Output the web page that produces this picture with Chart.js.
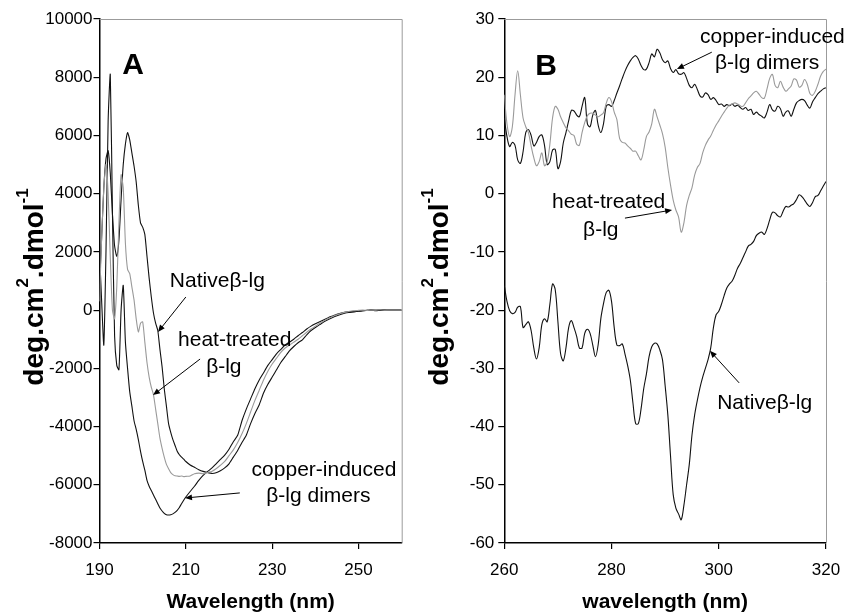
<!DOCTYPE html>
<html lang="en">
<head>
<meta charset="UTF-8">
<title>CD spectra - beta-lg</title>
<script src="https://cdn.jsdelivr.net/npm/chart.js"></script>
<style>
  html, body { margin: 0; padding: 0; background: #fff; }
  #wrap { position: relative; width: 861px; height: 614px; overflow: hidden; }
  #chartA { position: absolute; left: 0; top: 0; }
  #chartB { position: absolute; left: 415px; top: 0; }
</style>
</head>
<body>
<div id="wrap">
  <canvas id="chartA" width="415" height="614"></canvas>
  <canvas id="chartB" width="446" height="614"></canvas>
</div>
<script>
// ---- panel A: far-UV (nm, deg.cm2.dmol-1) ----
const wavelengthA = [
  190, 190.5, 191, 191.5, 192, 192.5, 193, 193.5, 194, 194.5,
  195, 195.5, 196, 196.5, 197, 197.5, 198, 198.5, 199, 199.5,
  200, 200.5, 201, 201.5, 202, 202.5, 203, 203.5, 204, 204.5,
  205, 205.5, 206, 206.5, 207, 207.5, 208, 208.5, 209, 209.5,
  210,
  211, 212, 213, 214, 215, 216, 217, 218, 219, 220,
  221, 222, 223, 224, 225, 226, 227, 228, 229, 230,
  231, 232, 233, 234, 235, 236, 237, 238, 239, 240,
  241, 242, 243, 244, 245, 246, 247, 248, 249, 250,
  251, 252, 253, 254, 255, 256, 257, 258, 259, 260
];
const nativeA = [
  800, 2500, 4200, 5200, 5475, 4700, 3300, 2200, 1850, 2400,
  3800, 5000, 5700, 6100, 5850, 5400, 4950, 4400, 3600, 3000,
  2850, 2600, 1850, 1100, 450, -100, -450, -700, -1350, -1950,
  -2700, -3300, -3900, -4200, -4450, -4650, -4850, -4970, -5050, -5120,
  -5200,
  -5320, -5400, -5480, -5540, -5580, -5610, -5590, -5520, -5420, -5280,
  -5050, -4820, -4550, -4300, -3900, -3550, -3250, -2850, -2550, -2300,
  -2050, -1800, -1600, -1400, -1250, -1120, -1020, -850, -700, -600,
  -500, -400, -320, -250, -190, -140, -100, -80, -60, -40,
  -20, -10, 0, -20, 0, 10, 0, 0, 0, 0
];
const heatA = [
  300, 2500, 4200, 5000, 4000, 1800, 0, -300, 800, 3000,
  4650, 4200, 2300, 1400, 1250, 800, 350, -300, -750, -450,
  -400, -1100, -1800, -2300, -2650, -2900, -3400, -3900, -4400, -4750,
  -5050, -5300, -5450, -5580, -5650, -5690, -5700, -5710, -5700, -5720,
  -5710,
  -5700, -5620, -5600, -5620, -5580, -5540, -5450, -5330, -5200, -5000,
  -4800, -4550, -4250, -3900, -3500, -3100, -2750, -2400, -2100, -1850,
  -1650, -1450, -1300, -1200, -1100, -1000, -880, -760, -650, -550,
  -450, -370, -290, -220, -160, -110, -70, -40, -20, -10,
  0, -10, 0, 0, 10, 0, 0, 0, 0, 0
];
const copperA = [
  2000, 300, -1200, 2000, 6500, 8100, 3300, -900, -1900, -2050,
  0, 850, -1100, -2000, -2800, -3300, -3800, -4100, -4450, -4850,
  -5200, -5500, -5850, -6050, -6200, -6350, -6500, -6650, -6800, -6900,
  -6980, -7030, -7040, -7030, -7000, -6950, -6880, -6780, -6650, -6530,
  -6420,
  -6230, -6050, -5850, -5680, -5550, -5430, -5280, -5130, -4980, -4780,
  -4520, -4300, -3800, -3400, -3050, -2700, -2400, -2150, -1900, -1700,
  -1500, -1350, -1200, -1100, -1000, -880, -770, -650, -550, -470,
  -400, -330, -260, -200, -140, -100, -70, -50, -40, -30,
  -20, -10, 0, 0, 0, 0, 0, 0, 0, 0
];
const xTicksA = [190, 210, 230, 250];

// ---- panel B: near-UV ----
const wavelengthB = [
  260, 260.5, 261, 261.5, 262, 262.5, 263, 263.5, 264, 264.5,
  265, 265.5, 266, 266.5, 267, 267.5, 268, 268.5, 269, 269.5,
  270, 270.5, 271, 271.5, 272, 272.5, 273, 273.5, 274, 274.5,
  275, 275.5, 276, 276.5, 277, 277.5, 278, 278.5, 279, 279.5,
  280, 280.5, 281, 281.5, 282, 282.5, 283, 283.5, 284, 284.5,
  285, 285.5, 286, 286.5, 287, 287.5, 288, 288.5, 289, 289.5,
  290, 290.5, 291, 291.5, 292, 292.5, 293, 293.5, 294, 294.5,
  295, 295.5, 296, 296.5, 297, 297.5, 298, 298.5, 299, 299.5,
  300, 300.5, 301, 301.5, 302, 302.5, 303, 303.5, 304, 304.5,
  305, 305.5, 306, 306.5, 307, 307.5, 308, 308.5, 309, 309.5,
  310, 310.5, 311, 311.5, 312, 312.5, 313, 313.5, 314, 314.5,
  315, 315.5, 316, 316.5, 317, 317.5, 318, 318.5, 319, 319.5,
  320
];
const nativeB = [
  -15.8, -18.5, -20.1, -20.6, -20.4, -19.5, -19.4, -23, -22.5, -22,
  -23.5, -26.5, -28.4, -26.5, -22.5, -21.5, -22, -19, -15.5, -16.5,
  -22, -27.5, -28.7, -26.5, -23, -21.8, -23, -24.5, -26.5, -26.5,
  -24, -23.3, -24, -26, -28, -26, -21.5, -18.9, -17, -16.6,
  -18.5, -23, -26, -26.1, -25.8, -27.5, -29.5, -32, -36, -39.5,
  -39.5, -37, -33.5, -31, -28, -26.3, -25.7, -25.8, -26.8, -28.5,
  -33, -38, -45, -51.7, -54, -55, -56, -53.5, -50, -46.5,
  -41.5, -38, -35.5, -33.3, -31.5, -30, -28.5, -26.5, -23, -20.8,
  -20.2, -19, -17.5, -16.2, -15.5, -15, -14, -12.8, -12, -11,
  -10, -9, -8.7, -8.2, -7.2, -6.8, -6.6, -7, -6, -4.5,
  -3.2, -3.3, -3.8, -4, -3, -2.2, -2.3, -2, -1.7, -1,
  -0.2, -0.5, -1.1, -1.8, -2.2, -1.5, -0.5, -0.3, 0.5, 1.3,
  2.1
];
const heatB = [
  17, 12, 9.8, 11.5, 17, 21.1, 17, 13, 11.5, 10.5,
  8.2, 6.2, 4.8, 5.5, 7, 4.8, 5.5, 8.5, 13, 15,
  14.5, 13.2, 12.2, 11.3, 10.8, 10.2, 10, 8.5, 8.3, 10.5,
  12.2, 13.4, 13.8, 13.8, 13.5, 13.2, 13.5, 13.9, 15.5, 16.5,
  15.8, 14, 12.7, 9.5, 8.8, 8.7, 8.2, 7.8, 7.3, 7.3,
  6.5, 5.8, 7.5, 9.8, 10.6, 12, 14.5, 13.2, 11.8, 10.3,
  8, 4.5, 1.5, -1.1, -2.8, -4, -6.6, -5, -2, -0.3,
  1, 3.2, 4.5, 5.2, 7, 8.3, 9.2, 9.9, 10.9, 11.8,
  12.5, 13.3, 14, 14.7, 15.2, 15.4, 15.6, 15.4, 15.1, 15,
  15.6, 16.3, 16.8, 17.3, 17.6, 17.1, 16.5, 16.4, 18, 19.8,
  20.5, 18.6, 18.2, 19.3, 18.3, 17.6, 18, 18.5, 19.7, 19.5,
  18.3, 18.6, 19.6, 18.8, 17.2, 16.9, 17.6, 18.8, 20.2, 21,
  21.4
];
const copperB = [
  13, 9.8, 8.1, 8.8, 8.3, 5.8, 5.2, 7.2, 10.5, 11,
  10, 8.2, 8.8, 9.8, 10.1, 8.3, 5, 5.5, 7.5, 7.6,
  4.3, 5.5, 8.7, 10.5, 12.5, 14.3, 14.2, 13.5, 13.2, 15,
  16.5, 12, 11.5, 13.5, 14.3, 11.8, 10.5, 12, 15, 15.3,
  15, 16, 17.3, 18.5, 19.8, 21, 22, 22.8, 23.4, 23.7,
  23.1, 22, 21.3, 21.4, 22.5, 24, 23.5, 24.8, 24.2, 23,
  22.5, 22.8, 21.5, 20.8, 21.3, 20.6, 20.5, 20.8, 19.8, 18.6,
  18.2, 18.8, 17.9, 16.8, 16.6, 17.3, 17, 16.2, 16.5, 16,
  15.3, 15.4, 15, 15.3, 15.1, 15.4, 15, 15.2, 14.8, 14.5,
  14.8, 14.3, 14.5, 13.6, 14, 13.6, 13.3, 13, 14, 15.3,
  14.4, 14.2, 15, 14.6, 13.3, 14, 14.2, 13.3, 14.5, 15.6,
  16, 16.2, 16, 15.2, 14.7, 15.8, 16.5, 17.2, 17.6, 18,
  18.2
];
const xTicksB = [260, 280, 300, 320];

// labels placed in data units: [text, nm, value, align]
const notesA = [
  ['Nativeβ-lg', 206.3, 1000, 'left'],
  ['heat-treated', 208.2, -1030, 'left'],
  ['β-lg', 218.8, -1950, 'center'],
  ['copper-induced', 242.0, -5490, 'center'],
  ['β-lg dimers', 240.7, -6390, 'center']
];
const arrowsA = [
  [210.0, 450, 203.55, -750],
  [213.3, -1680, 202.4, -2920],
  [222.5, -6280, 209.8, -6455]
];
const notesB = [
  ['copper-induced', 296.5, 26.9, 'left'],
  ['β-lg dimers', 309.0, 22.4, 'center'],
  ['heat-treated', 268.9, -1.4, 'left'],
  ['β-lg', 278.0, -6.2, 'center'],
  ['Nativeβ-lg', 299.7, -36.0, 'left']
];
const arrowsB = [
  [298.7, 24.3, 292.2, 21.4],
  [282.5, -4.2, 291.3, -2.8],
  [303.8, -32.5, 298.35, -27.0]
];

const FONT = "'Liberation Sans', Arial, sans-serif";
Chart.defaults.font.family = FONT;
Chart.defaults.color = '#000';

function pts(xs, ys) {
  return xs.map((x, i) => ({ x: x, y: ys[i] }));
}

function arrow(ctx, x1, y1, x2, y2) {
  const ang = Math.atan2(y2 - y1, x2 - x1);
  ctx.beginPath();
  ctx.moveTo(x1, y1);
  ctx.lineTo(x2 - 5 * Math.cos(ang), y2 - 5 * Math.sin(ang));
  ctx.stroke();
  ctx.beginPath();
  ctx.moveTo(x2, y2);
  ctx.lineTo(x2 - 7 * Math.cos(ang) + 3 * Math.sin(ang), y2 - 7 * Math.sin(ang) - 3 * Math.cos(ang));
  ctx.lineTo(x2 - 7 * Math.cos(ang) - 3 * Math.sin(ang), y2 - 7 * Math.sin(ang) + 3 * Math.cos(ang));
  ctx.closePath();
  ctx.fill();
}

const decorations = {
  id: 'decorations',
  afterDraw(chart, args, opts) {
    const ctx = chart.ctx;
    const a = chart.chartArea;
    const x = chart.scales.x, y = chart.scales.y;
    ctx.save();
    // grey frame on top and right of the plot area
    ctx.strokeStyle = '#9b9b9b';
    ctx.lineWidth = 1;
    ctx.beginPath();
    ctx.moveTo(a.left, a.top + 0.5);
    ctx.lineTo(a.right + 0.5, a.top + 0.5);
    ctx.lineTo(a.right + 0.5, a.bottom);
    ctx.stroke();

    ctx.fillStyle = '#000';
    // x title
    ctx.font = 'bold 21px ' + FONT;
    ctx.textAlign = 'center';
    ctx.textBaseline = 'middle';
    ctx.fillText(opts.xTitle, (a.left + a.right) / 2, 602);

    // y title with superscripts
    const parts = [['deg.cm', false], ['2', true], ['.dmol', false], ['-1', true]];
    ctx.save();
    ctx.translate(a.left - 66.5, (a.top + a.bottom) / 2 + 6);
    ctx.rotate(-Math.PI / 2);
    ctx.textAlign = 'left';
    ctx.textBaseline = 'alphabetic';
    let total = 0;
    parts.forEach(p => {
      ctx.font = (p[1] ? 'bold 17px ' : 'bold 28px ') + FONT;
      total += ctx.measureText(p[0]).width;
    });
    let cx = -total / 2;
    parts.forEach(p => {
      ctx.font = (p[1] ? 'bold 17px ' : 'bold 28px ') + FONT;
      ctx.fillText(p[0], cx, p[1] ? -5 : 10);
      cx += ctx.measureText(p[0]).width;
    });
    ctx.restore();

    // panel letter
    ctx.font = 'bold 30px ' + FONT;
    ctx.textAlign = 'center';
    ctx.textBaseline = 'middle';
    ctx.fillText(opts.letter[0], x.getPixelForValue(opts.letter[1]), y.getPixelForValue(opts.letter[2]));

    // curve labels
    ctx.font = '21px ' + FONT;
    opts.notes.forEach(n => {
      ctx.textAlign = n[3];
      ctx.fillText(n[0], x.getPixelForValue(n[1]), y.getPixelForValue(n[2]));
    });
    ctx.strokeStyle = '#000';
    ctx.lineWidth = 1;
    opts.arrows.forEach(r => {
      arrow(ctx, x.getPixelForValue(r[0]), y.getPixelForValue(r[1]),
                 x.getPixelForValue(r[2]), y.getPixelForValue(r[3]));
    });
    ctx.restore();
  }
};

function makePanel(id, p) {
  const axisStyle = {
    grid: { drawOnChartArea: false, drawTicks: true, tickLength: 6, color: '#000', lineWidth: 1.2 },
    border: { display: true, color: '#000', width: 1.5 }
  };
  return new Chart(document.getElementById(id), {
    type: 'line',
    data: {
      datasets: p.series.map(s => ({
        data: pts(p.wl, s.values),
        borderColor: s.color,
        borderWidth: 1.1,
        pointRadius: 0,
        tension: p.tension,
        fill: false
      }))
    },
    options: {
      responsive: false,
      animation: false,
      events: [],
      layout: { padding: { top: 19, right: p.padRight, left: 0, bottom: 0 } },
      plugins: {
        legend: { display: false },
        tooltip: { enabled: false },
        decorations: { xTitle: p.xTitle, letter: p.letter, notes: p.notes, arrows: p.arrows }
      },
      scales: {
        x: Object.assign({
          type: 'linear',
          min: p.xMin,
          max: p.xMax,
          afterBuildTicks: s => { s.ticks = p.xTicks.map(v => ({ value: v })); },
          afterFit: s => { s.height = 71; },
          ticks: { font: { size: 17 }, color: '#000', padding: 11, maxRotation: 0, autoSkip: false }
        }, axisStyle),
        y: Object.assign({
          min: p.yMin,
          max: p.yMax,
          afterFit: s => { s.width = p.yWidth; },
          ticks: { stepSize: p.yStep, font: { size: 17 }, color: '#000', padding: p.yPad, callback: v => String(v) }
        }, axisStyle)
      }
    },
    plugins: [decorations]
  });
}

makePanel('chartA', {
  wl: wavelengthA,
  series: [
    { values: heatA, color: '#9a9a9a' },
    { values: nativeA, color: '#111' },
    { values: copperA, color: '#111' }
  ],
  tension: 0.2,
  xMin: 190, xMax: 260, xTicks: xTicksA,
  yMin: -8000, yMax: 10000, yStep: 2000,
  yWidth: 99.5, yPad: 1, padRight: 13.3,
  xTitle: 'Wavelength (nm)',
  letter: ['A', 197.8, 8400],
  notes: notesA, arrows: arrowsA
});

makePanel('chartB', {
  wl: wavelengthB,
  series: [
    { values: heatB, color: '#9a9a9a' },
    { values: copperB, color: '#111' },
    { values: nativeB, color: '#111' }
  ],
  tension: 0.35,
  xMin: 260, xMax: 320, xTicks: xTicksB,
  yMin: -60, yMax: 30, yStep: 10,
  yWidth: 89.3, yPad: 4, padRight: 35,
  xTitle: 'wavelength (nm)',
  letter: ['B', 267.8, 21.8],
  notes: notesB, arrows: arrowsB
});
</script>
</body>
</html>
